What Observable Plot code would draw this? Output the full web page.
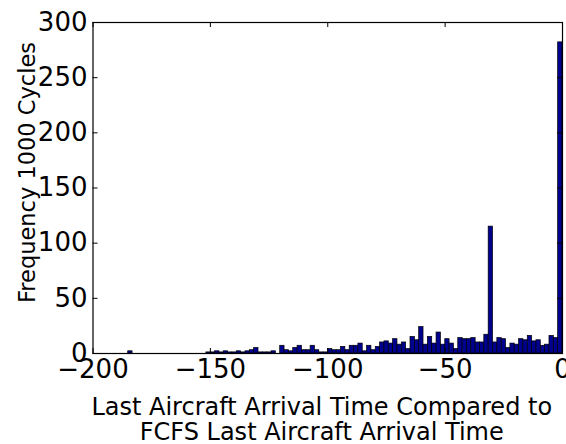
<!DOCTYPE html>
<html>
<head>
<meta charset="utf-8">
<script src="https://cdn.jsdelivr.net/npm/d3@7"></script>
<script src="https://cdn.jsdelivr.net/npm/@observablehq/plot@0.6"></script>
<style>
  html, body { margin: 0; padding: 0; background: #fff; }
</style>
</head>
<body>
<div id="chart"></div>
<script>
// Histogram of how much earlier the last aircraft arrives than under FCFS,
// 100 equal bins spanning the observed range, counted over 1000 cycles.
const binStart = -185;
const binWidth = 1.85;
const counts = [
  2, 0, 0, 0, 0, 0, 0, 0, 0, 0,
  0, 0, 0, 0, 0, 0, 0, 0, 1, 1,
  2, 1, 2, 1, 1, 2, 1, 2, 3, 5,
  1, 1, 1, 2, 0, 7, 3, 2, 5, 7,
  3, 3, 7, 3, 1, 1, 4, 3, 3, 6,
  3, 7, 7, 9, 2, 7, 3, 6, 10, 11,
  9, 13, 8, 10, 4, 15, 12, 24, 8, 15,
  9, 19, 8, 13, 9, 4, 14, 13, 13, 14,
  10, 10, 17, 115, 10, 14, 13, 5, 9, 8,
  13, 12, 16, 11, 12, 7, 8, 16, 14, 282
];
const xTicks = [-200, -150, -100, -50, 0];
const yTicks = [0, 50, 100, 150, 200, 250, 300];
const xLabelLines = ["Last Aircraft Arrival Time Compared to", "FCFS Last Aircraft Arrival Time"];
const yLabel = "Frequency 1000 Cycles";

const bins = counts.map((c, i) => ({
  x1: binStart + i * binWidth,
  x2: binStart + (i + 1) * binWidth,
  count: c
}));

const W = 566, H = 444;
const mL = 92.5, mR = 4, mT = 22, mB = 91;
const frameW = W - mL - mR, frameH = H - mT - mB;
const tickLen = 5;

const chart = Plot.plot({
  width: W,
  height: H,
  marginLeft: mL,
  marginRight: mR,
  marginTop: mT,
  marginBottom: mB,
  style: { fontFamily: "DejaVu Sans", background: "#fff", color: "#000" },
  x: { domain: [-200, 0], label: null },
  y: { domain: [0, 300], label: null },
  marks: [
    Plot.rectY(bins, { x1: "x1", x2: "x2", y: "count", fill: "#00008F", stroke: "#000", strokeWidth: 0.7 }),
    // ticks drawn inward on all four sides
    Plot.tickX(xTicks, { x: d => d, insetTop: frameH - tickLen, stroke: "#000" }),
    Plot.tickX(xTicks, { x: d => d, insetBottom: frameH - tickLen, stroke: "#000" }),
    Plot.tickY(yTicks, { y: d => d, insetRight: frameW - tickLen, stroke: "#000" }),
    Plot.tickY(yTicks, { y: d => d, insetLeft: frameW - tickLen, stroke: "#000" }),
    Plot.frame({ stroke: "#000", strokeWidth: 1.2 }),
    Plot.axisX(xTicks, { tickSize: 0, tickPadding: 6, fontSize: 26, label: null }),
    Plot.axisY(yTicks, { tickSize: 0, tickPadding: 5.5, fontSize: 26, label: null }),
    Plot.text([xLabelLines[0]], { frameAnchor: "bottom", dy: 54, dx: -6, fontSize: 24, lineAnchor: "middle" }),
    Plot.text([xLabelLines[1]], { frameAnchor: "bottom", dy: 78.5, dx: -6, fontSize: 24, lineAnchor: "middle" }),
    Plot.text([yLabel], { frameAnchor: "left", rotate: -90, textAnchor: "middle", dx: -65.5, dy: -15.5, fontSize: 22.5, lineAnchor: "middle" })
  ]
});

document.getElementById("chart").appendChild(chart);
</script>
</body>
</html>
